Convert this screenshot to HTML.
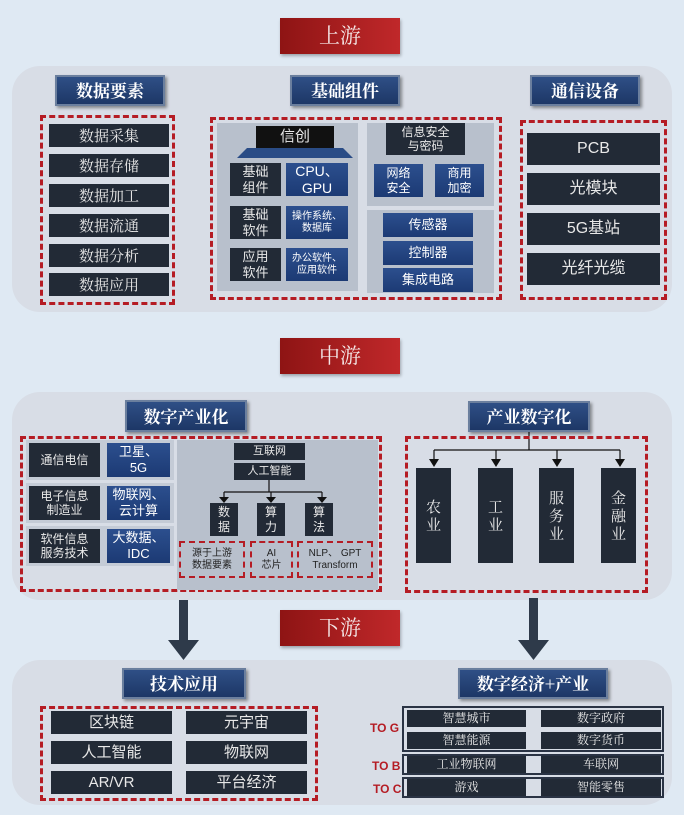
<!DOCTYPE html>
<html><head><meta charset="utf-8"><style>
*{margin:0;padding:0;box-sizing:border-box}
body{width:684px;height:815px;background:#dfe9f3;position:relative;overflow:hidden;font-family:"Liberation Sans","Noto Sans CJK SC",sans-serif}
div{position:absolute}
.c{display:flex;align-items:center;justify-content:center;text-align:center;color:#fff;line-height:1.2}
.red{background:linear-gradient(90deg,#8e1414,#c0282a);color:#f3e6e6;font-family:"Noto Serif CJK SC",serif;font-size:21px;box-shadow:1px 2px 3px rgba(0,0,0,.3)}
.panel{background:#d8dde6;border-radius:28px}
.hd{background:linear-gradient(180deg,#2f4f86,#1d3766);border:2px solid #6b7f9e;color:#fff;font-family:"Noto Serif CJK SC",serif;font-weight:bold;font-size:17px;box-shadow:2px 2px 3px rgba(0,0,0,.4)}
.dk{background:#222a36;color:#e8e8e8;font-size:15px}
.bl{background:linear-gradient(180deg,#2c4f8e,#1c3a74);color:#fff;font-size:13px}
.dash{border:3px dashed #b51c24}
.sdash{border:2px dashed #b51c24}
.gp{background:#b8c0cc}
.serif{font-family:"Noto Serif CJK SC",serif}
.tg{color:#b51c24;font-weight:bold;font-size:12px}
.fr{border:2px solid #2a3344;background:#d8dde6}
</style></head><body>

<!-- 上游 -->
<div class="c red" style="left:280px;top:18px;width:120px;height:36px">上游</div>
<div class="panel" style="left:12px;top:66px;width:660px;height:246px"></div>
<div class="c hd" style="left:55px;top:75px;width:110px;height:31px">数据要素</div>
<div class="c hd" style="left:290px;top:75px;width:110px;height:31px">基础组件</div>
<div class="c hd" style="left:530px;top:75px;width:110px;height:31px">通信设备</div>

<div class="dash" style="left:40px;top:115px;width:135px;height:190px"></div>
<div class="c dk serif" style="left:49px;top:124px;width:120px;height:23px">数据采集</div>
<div class="c dk serif" style="left:49px;top:154px;width:120px;height:23px">数据存储</div>
<div class="c dk serif" style="left:49px;top:184px;width:120px;height:23px">数据加工</div>
<div class="c dk serif" style="left:49px;top:214px;width:120px;height:23px">数据流通</div>
<div class="c dk serif" style="left:49px;top:244px;width:120px;height:23px">数据分析</div>
<div class="c dk serif" style="left:49px;top:273px;width:120px;height:23px">数据应用</div>

<div class="dash" style="left:210px;top:117px;width:292px;height:183px"></div>
<div class="gp" style="left:217px;top:123px;width:141px;height:168px"></div>
<div class="c dk" style="left:256px;top:126px;width:78px;height:22px;background:#111;font-size:15px">信创</div>
<div style="left:237px;top:148px;width:0;height:0;border-left:10px solid transparent;border-right:10px solid transparent;border-bottom:10px solid #2a4c86;width:116px"></div>
<div class="c dk" style="left:230px;top:163px;width:51px;height:33px;font-size:13px">基础<br>组件</div>
<div class="c bl" style="left:286px;top:163px;width:62px;height:33px;font-size:14px">CPU、<br>GPU</div>
<div class="c dk" style="left:230px;top:206px;width:51px;height:33px;font-size:13px">基础<br>软件</div>
<div class="c bl" style="left:286px;top:206px;width:62px;height:33px;font-size:10px">操作系统、<br>数据库</div>
<div class="c dk" style="left:230px;top:248px;width:51px;height:33px;font-size:13px">应用<br>软件</div>
<div class="c bl" style="left:286px;top:248px;width:62px;height:33px;font-size:10px">办公软件、<br>应用软件</div>

<div class="gp" style="left:367px;top:123px;width:127px;height:83px"></div>
<div class="c dk" style="left:386px;top:123px;width:79px;height:32px;font-size:12px">信息安全<br>与密码</div>
<div class="c bl" style="left:374px;top:164px;width:49px;height:33px;font-size:12px">网络<br>安全</div>
<div class="c bl" style="left:435px;top:164px;width:49px;height:33px;font-size:12px">商用<br>加密</div>
<div class="gp" style="left:367px;top:210px;width:127px;height:83px"></div>
<div class="c bl" style="left:383px;top:213px;width:90px;height:24px">传感器</div>
<div class="c bl" style="left:383px;top:241px;width:90px;height:24px">控制器</div>
<div class="c bl" style="left:383px;top:268px;width:90px;height:24px">集成电路</div>

<div class="dash" style="left:520px;top:120px;width:147px;height:180px"></div>
<div class="c dk" style="left:527px;top:133px;width:133px;height:32px;font-size:16px">PCB</div>
<div class="c dk" style="left:527px;top:173px;width:133px;height:32px;font-size:16px">光模块</div>
<div class="c dk" style="left:527px;top:213px;width:133px;height:32px;font-size:16px">5G基站</div>
<div class="c dk" style="left:527px;top:253px;width:133px;height:32px;font-size:16px">光纤光缆</div>

<!-- 中游 -->
<div class="c red" style="left:280px;top:338px;width:120px;height:36px">中游</div>
<div class="panel" style="left:12px;top:392px;width:660px;height:208px"></div>
<div class="c hd" style="left:125px;top:400px;width:122px;height:32px">数字产业化</div>
<div class="c hd" style="left:468px;top:401px;width:122px;height:31px">产业数字化</div>

<div class="dash" style="left:20px;top:436px;width:362px;height:156px"></div>
<div style="left:26px;top:440px;width:148px;height:40px;background:#c4cbd6"></div>
<div style="left:26px;top:483px;width:148px;height:40px;background:#c4cbd6"></div>
<div style="left:26px;top:526px;width:148px;height:40px;background:#c4cbd6"></div>
<div class="c dk" style="left:29px;top:443px;width:71px;height:34px;font-size:12px">通信电信</div>
<div class="c bl" style="left:107px;top:443px;width:63px;height:34px">卫星、<br>5G</div>
<div class="c dk" style="left:29px;top:486px;width:71px;height:34px;font-size:12px">电子信息<br>制造业</div>
<div class="c bl" style="left:107px;top:486px;width:63px;height:34px">物联网、<br>云计算</div>
<div class="c dk" style="left:29px;top:529px;width:71px;height:34px;font-size:12px">软件信息<br>服务技术</div>
<div class="c bl" style="left:107px;top:529px;width:63px;height:34px">大数据、<br>IDC</div>

<div class="gp" style="left:177px;top:440px;width:201px;height:150px"></div>
<div class="c dk" style="left:234px;top:443px;width:71px;height:17px;font-size:11px">互联网</div>
<div class="c dk" style="left:234px;top:463px;width:71px;height:17px;font-size:11px">人工智能</div>
<svg style="position:absolute;left:0;top:0" width="684" height="815">
<g stroke="#111" stroke-width="1.2" fill="none">
<line x1="269" y1="480" x2="269" y2="492"/><line x1="224" y1="492" x2="322" y2="492"/>
<line x1="224" y1="492" x2="224" y2="498"/><line x1="271" y1="492" x2="271" y2="498"/><line x1="322" y1="492" x2="322" y2="498"/>
<line x1="529" y1="432" x2="529" y2="450"/><line x1="434" y1="450" x2="620" y2="450"/>
<line x1="434" y1="450" x2="434" y2="460"/><line x1="496" y1="450" x2="496" y2="460"/><line x1="557" y1="450" x2="557" y2="460"/><line x1="620" y1="450" x2="620" y2="460"/>
</g>
<g fill="#111">
<polygon points="219,497 229,497 224,503"/><polygon points="266,497 276,497 271,503"/><polygon points="317,497 327,497 322,503"/>
<polygon points="429,459 439,459 434,467"/><polygon points="491,459 501,459 496,467"/><polygon points="552,459 562,459 557,467"/><polygon points="615,459 625,459 620,467"/>
</g>
<g fill="#2e3a4a">
<rect x="179" y="600" width="9" height="40"/><polygon points="168,640 199,640 183.5,660"/>
<rect x="529" y="598" width="9" height="42"/><polygon points="518,640 549,640 533.5,660"/>
</g>
</svg>
<div class="c dk" style="left:210px;top:503px;width:28px;height:33px;font-size:12px">数<br>据</div>
<div class="c dk" style="left:257px;top:503px;width:28px;height:33px;font-size:12px">算<br>力</div>
<div class="c dk" style="left:305px;top:503px;width:28px;height:33px;font-size:12px">算<br>法</div>
<div class="c sdash" style="left:179px;top:541px;width:66px;height:37px;color:#222;font-size:10px">源于上游<br>数据要素</div>
<div class="c sdash" style="left:250px;top:541px;width:43px;height:37px;color:#222;font-size:10px">AI<br>芯片</div>
<div class="c sdash" style="left:297px;top:541px;width:76px;height:37px;color:#222;font-size:10px">NLP、 GPT<br>Transform</div>

<div class="dash" style="left:405px;top:436px;width:243px;height:157px"></div>
<div class="c dk serif" style="left:416px;top:468px;width:35px;height:95px;font-size:15px">农<br>业</div>
<div class="c dk serif" style="left:478px;top:468px;width:35px;height:95px;font-size:15px">工<br>业</div>
<div class="c dk serif" style="left:539px;top:468px;width:35px;height:95px;font-size:15px">服<br>务<br>业</div>
<div class="c dk serif" style="left:601px;top:468px;width:35px;height:95px;font-size:15px">金<br>融<br>业</div>

<!-- 下游 -->
<div class="c red" style="left:280px;top:610px;width:120px;height:36px">下游</div>
<div class="panel" style="left:12px;top:660px;width:660px;height:145px"></div>
<div class="c hd" style="left:122px;top:668px;width:124px;height:31px">技术应用</div>
<div class="c hd" style="left:458px;top:668px;width:150px;height:31px">数字经济+产业</div>

<div class="dash" style="left:40px;top:706px;width:278px;height:95px"></div>
<div class="c dk" style="left:51px;top:711px;width:121px;height:23px">区块链</div>
<div class="c dk" style="left:186px;top:711px;width:121px;height:23px">元宇宙</div>
<div class="c dk" style="left:51px;top:741px;width:121px;height:23px">人工智能</div>
<div class="c dk" style="left:186px;top:741px;width:121px;height:23px">物联网</div>
<div class="c dk" style="left:51px;top:771px;width:121px;height:23px">AR/VR</div>
<div class="c dk" style="left:186px;top:771px;width:121px;height:23px">平台经济</div>

<div class="tg" style="left:370px;top:721px">TO G</div>
<div class="tg" style="left:372px;top:759px">TO B</div>
<div class="tg" style="left:373px;top:782px">TO C</div>
<div class="fr" style="left:402px;top:706px;width:262px;height:46px"></div>
<div class="fr" style="left:402px;top:754px;width:262px;height:21px"></div>
<div class="fr" style="left:402px;top:777px;width:262px;height:21px"></div>
<div class="c dk serif" style="left:407px;top:710px;width:119px;height:17px;font-size:12px">智慧城市</div>
<div class="c dk serif" style="left:541px;top:710px;width:120px;height:17px;font-size:12px">数字政府</div>
<div class="c dk serif" style="left:407px;top:732px;width:119px;height:17px;font-size:12px">智慧能源</div>
<div class="c dk serif" style="left:541px;top:732px;width:120px;height:17px;font-size:12px">数字货币</div>
<div class="c dk serif" style="left:407px;top:756px;width:119px;height:17px;font-size:12px">工业物联网</div>
<div class="c dk serif" style="left:541px;top:756px;width:120px;height:17px;font-size:12px">车联网</div>
<div class="c dk serif" style="left:407px;top:779px;width:119px;height:17px;font-size:12px">游戏</div>
<div class="c dk serif" style="left:541px;top:779px;width:120px;height:17px;font-size:12px">智能零售</div>
</body></html>
